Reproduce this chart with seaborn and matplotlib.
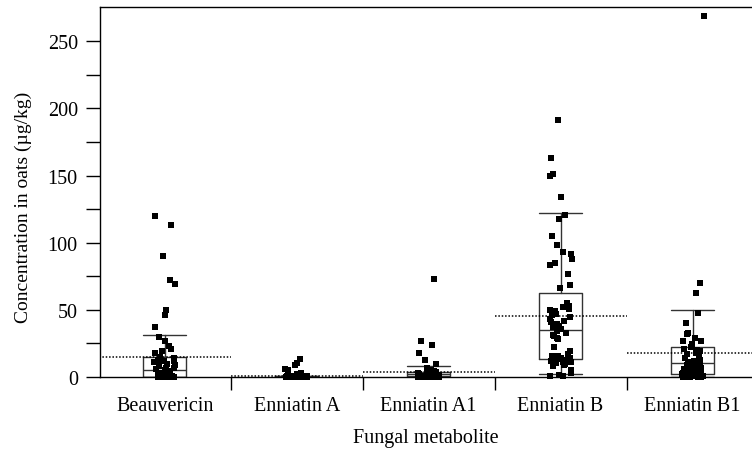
import numpy as np
import pandas as pd
import matplotlib
matplotlib.use("Agg")
import matplotlib.pyplot as plt
import seaborn as sns

categories = ["Beauvericin", "Enniatin A", "Enniatin A1", "Enniatin B", "Enniatin B1"]

beauvericin = [120, 113, 90, 72, 69, 50, 46, 37, 30, 27, 23, 21, 19, 17.5, 15, 14, 13, 12, 12,
               11, 10, 9, 8, 7, 6.5, 6, 5, 4.5, 4, 3, 3, 2, 2, 1.5, 1, 1, 0.5, 0.5,
               0, 0, 0, 0, 0, 0, 0, 0, 0, 0, 0, 0, 0, 0]
enniatin_a = [13.5, 10.5, 9, 6, 5, 3, 2, 1.5, 1, 1, 0.5, 0.5, 0.5,
              0, 0, 0, 0, 0, 0, 0, 0, 0, 0, 0, 0, 0, 0, 0, 0, 0, 0, 0, 0,
              0, 0, 0, 0, 0, 0, 0, 0, 0, 0, 0, 0]
enniatin_a1 = [73, 27, 24, 18, 13, 10, 7, 5, 4.5, 4, 3.5, 3, 3, 2.5, 2, 2, 2, 1.5, 1.5,
               1, 1, 1, 0.5, 0.5, 0.5, 0, 0, 0, 0, 0, 0, 0, 0, 0, 0, 0, 0, 0, 0, 0,
               0, 0, 0, 0, 0, 0, 0, 0, 0, 0]
enniatin_b = [191, 163, 151, 149.5, 134, 120.5, 117.5, 105, 98, 93, 91.5, 88, 85, 83.5, 76.5,
              68.5, 66.5, 55, 53, 52, 51, 50, 49, 47, 46, 44.5, 43, 42, 41, 39.5, 38, 37, 36,
              35.5, 34, 33, 31, 30.5, 29, 28, 22.5, 19, 17, 16, 15.5, 15, 14.5, 14.5, 14, 14,
              13.5, 13, 12.5, 12, 12, 11.5, 11, 11, 10.5, 10, 9.5, 9, 8.5, 5, 3, 1.5, 1, 1]
enniatin_b1 = [269, 70, 62.5, 48, 40.5, 33, 32, 29, 27, 27, 24.5, 22.5, 21, 20, 19, 18, 17, 15,
               14.5, 13, 12, 11, 10.5, 10, 9, 8.5, 8, 7, 6, 6, 5, 5, 4.5, 4, 4, 3.5, 3, 3, 2.5,
               2, 2, 1.5, 1, 1, 1, 0.5, 0.5, 0, 0, 0, 0, 0]

# box statistics
q1 = [0, 0, 0.5, 13.4, 2.2]
medians = [5.5, 0, 2, 35, 10.2]
q3 = [15, 0.5, 4, 62.5, 22]
whisk_lo = [0, 0, 0, 2.5, 0]
whisk_hi = [31.5, 1, 8.5, 122, 50]
means = [14.8, 0.8, 4, 45.6, 17.9]

yticks = [0, 50, 100, 150, 200, 250]

series = [beauvericin, enniatin_a, enniatin_a1, enniatin_b, enniatin_b1]
df = pd.DataFrame({
    "metabolite": np.concatenate([[c] * len(v) for c, v in zip(categories, series)]),
    "conc": np.concatenate([np.asarray(v, float) for v in series]),
})

sns.set_theme(style="white")
plt.rcParams["font.family"] = ["Liberation Serif", "DejaVu Serif"]
plt.rcParams["font.size"] = 14.5

fig = plt.figure(figsize=(7.52, 4.52), dpi=100)
ax = fig.add_axes([100 / 752, (452 - 378) / 452, 1 - 100 / 752, (378 - 8) / 452])

pos = np.arange(len(categories))
stats = [dict(q1=a, med=m, q3=b, whislo=lo, whishi=hi, label=c)
         for a, m, b, lo, hi, c in zip(q1, medians, q3, whisk_lo, whisk_hi, categories)]
lc = "#333333"
ax.bxp(stats, positions=pos, widths=0.33, capwidths=0.33, showfliers=False,
       boxprops=dict(color=lc, lw=1.0), whiskerprops=dict(color=lc, lw=1.0),
       capprops=dict(color=lc, lw=1.0), medianprops=dict(color=lc, lw=1.0),
       manage_ticks=False, zorder=2)

ax.hlines(means, pos - 0.5, pos + 0.5, colors="black", linestyles=(0, (1, 1.2)), lw=1.1, zorder=2)

np.random.seed(7)
sns.stripplot(data=df, x="metabolite", y="conc", order=categories, jitter=0.085,
              marker="s", color="black", size=3.8, linewidth=0, ax=ax,
              clip_on=False, zorder=3)

ax.set_xlim(-0.49, 4.45)
ax.set_ylim(0, 275.5)

ax.set_yticks(yticks)
ax.set_yticks(np.arange(25, 275, 50), minor=True)
ax.tick_params(axis="y", which="both", direction="out", length=10, width=1.0,
               color="black", left=True, pad=6, labelsize=14.5, labelcolor="black")

ax.set_xticks(pos)
ax.set_xticklabels(categories)
ax.set_xticks(pos[:-1] + 0.5, minor=True)
ax.tick_params(axis="x", which="major", length=0, pad=14, labelsize=14.5, labelcolor="black")
ax.tick_params(axis="x", which="minor", direction="out", length=9, width=1.0,
               color="black", bottom=True)

ax.set_xlabel("Fungal metabolite", fontsize=14.5, color="black", labelpad=9)
ax.set_ylabel("Concentration in oats (µg/kg)", fontsize=14, color="black")
ax.yaxis.set_label_coords(-0.104, 0.46)

for s in ["left", "bottom", "top"]:
    ax.spines[s].set_visible(True)
    ax.spines[s].set_color("black")
    ax.spines[s].set_linewidth(1.0)
ax.spines["right"].set_visible(False)

fig.savefig("out.png", dpi=100)
